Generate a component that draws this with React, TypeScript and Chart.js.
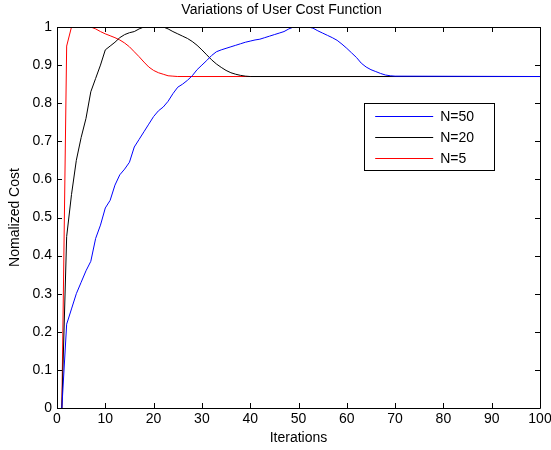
import React, { useEffect, useRef } from "react";
import { Chart, registerables } from "chart.js";
Chart.register(...registerables);

const titleText = "Variations of User Cost Function";
const xTitle = "Iterations";
const yTitle = "Nomalized Cost";
const seriesLabels = ["N=50", "N=20", "N=5"];
const seriesColors = ["#0000ff", "#000000", "#ff0000"];

const n50X = [
  1, 2, 3, 4, 5, 6, 7, 8, 9, 10, 11, 12, 13, 14, 15, 16, 17, 18, 19, 20,
  21, 22, 23, 24, 25, 26, 27, 28, 29, 30, 31, 32, 33, 34, 35, 36, 37, 38, 39, 40,
  41, 42, 43, 44, 45, 46, 47, 48, 49, 50, 51, 52, 53, 54, 55, 56, 57, 58, 59, 60,
  61, 62, 63, 64, 65, 66, 67, 68, 69, 70, 100,
];
const n50Y = [
  0, 0.22, 0.26, 0.3, 0.33, 0.36, 0.385, 0.445, 0.48, 0.525, 0.545, 0.585, 0.612, 0.627, 0.645, 0.685, 0.705, 0.725, 0.745, 0.765,
  0.78, 0.79, 0.805, 0.825, 0.842, 0.85, 0.86, 0.872, 0.888, 0.9, 0.912, 0.925, 0.935, 0.94, 0.944, 0.948, 0.952, 0.956, 0.96, 0.963,
  0.966, 0.968, 0.972, 0.976, 0.98, 0.984, 0.988, 0.995, 1, 1, 1, 1, 0.997, 0.99, 0.984, 0.978, 0.972, 0.965, 0.955, 0.944,
  0.932, 0.92, 0.905, 0.895, 0.888, 0.883, 0.878, 0.874, 0.872, 0.871, 0.87,
];

const n20X = [
  1, 2, 3, 4, 5, 6, 7, 8, 9, 10, 11, 12, 13, 14, 15, 16, 17, 18, 19, 20,
  21, 22, 23, 24, 25, 26, 27, 28, 29, 30, 31, 32, 33, 34, 35, 36, 37, 38, 39, 40, 100,
];
const n20Y = [
  0, 0.45, 0.56, 0.65, 0.71, 0.76, 0.83, 0.865, 0.9, 0.94, 0.95, 0.96, 0.972, 0.98, 0.985, 0.988, 0.995, 1, 1, 1,
  1, 1, 0.995, 0.988, 0.982, 0.976, 0.97, 0.962, 0.952, 0.94, 0.927, 0.914, 0.903, 0.894, 0.886, 0.88, 0.876, 0.873, 0.871, 0.87, 0.87,
];

const n5X = [
  1, 2, 3, 4, 5, 6, 7, 8, 9, 10, 11, 12, 13, 14, 15, 16, 17, 18, 19, 20,
  21, 22, 23, 24, 25, 100,
];
const n5Y = [
  0, 0.95, 1, 1, 1, 1, 1, 0.995, 0.988, 0.982, 0.977, 0.972, 0.966, 0.958, 0.948, 0.935, 0.922, 0.908, 0.895, 0.886,
  0.88, 0.876, 0.872, 0.871, 0.87, 0.87,
];

const xTicks = [0, 10, 20, 30, 40, 50, 60, 70, 80, 90, 100];
const yTicks = [0, 0.1, 0.2, 0.3, 0.4, 0.5, 0.6, 0.7, 0.8, 0.9, 1];

const FONT = "'Liberation Sans', Arial, Helvetica, sans-serif";
const FS = 14;

const toPoints = (xs: number[], ys: number[]) => xs.map((x, i) => ({ x, y: ys[i] }));

const framePlugin = {
  id: "frame",
  afterDraw(chart: any) {
    const { ctx, chartArea } = chart;
    const { left, right, top, bottom } = chartArea;
    const xs = chart.scales.x;
    const ys = chart.scales.y;
    ctx.save();
    ctx.strokeStyle = "#000";
    ctx.lineWidth = 1;
    ctx.beginPath();
    ctx.rect(Math.round(left) + 0.5, Math.round(top) + 0.5, Math.round(right - left), Math.round(bottom - top));
    ctx.stroke();
    const tl = 5;
    ctx.beginPath();
    xTicks.forEach((v) => {
      const px = Math.round(xs.getPixelForValue(v)) + 0.5;
      ctx.moveTo(px, bottom);
      ctx.lineTo(px, bottom - tl);
      ctx.moveTo(px, top);
      ctx.lineTo(px, top + tl);
    });
    yTicks.forEach((v) => {
      const py = Math.round(ys.getPixelForValue(v)) + 0.5;
      ctx.moveTo(left, py);
      ctx.lineTo(left + tl, py);
      ctx.moveTo(right, py);
      ctx.lineTo(right - tl, py);
    });
    ctx.stroke();

    // title
    ctx.fillStyle = "#000";
    ctx.font = `${FS}px ${FONT}`;
    ctx.textAlign = "center";
    ctx.textBaseline = "middle";
    ctx.fillText(titleText, left + (right - left) * 0.465, top - 17);

    // legend
    const w = right - left;
    const h = bottom - top;
    const bx = left + w * 0.636;
    const by = top + h * 0.2;
    const bw = w * 0.27;
    const bh = h * 0.177;
    ctx.fillStyle = "#fff";
    ctx.fillRect(bx, by, bw, bh);
    ctx.strokeStyle = "#000";
    ctx.strokeRect(Math.round(bx) + 0.5, Math.round(by) + 0.5, Math.round(bw), Math.round(bh));
    ctx.font = `${FS}px ${FONT}`;
    ctx.textAlign = "left";
    ctx.textBaseline = "middle";
    seriesLabels.forEach((lab, i) => {
      const y = Math.round(by + 12.5 + i * 21.3) + 0.5;
      ctx.strokeStyle = seriesColors[i];
      ctx.beginPath();
      ctx.moveTo(bx + 11, y);
      ctx.lineTo(bx + 69, y);
      ctx.stroke();
      ctx.fillStyle = "#000";
      ctx.fillText(lab, bx + 76, y + 1);
    });
    ctx.restore();
  },
};

export default function App() {
  const ref = useRef<HTMLCanvasElement>(null);
  useEffect(() => {
    if (!ref.current) return;
    const chart = new Chart(ref.current, {
      type: "line",
      data: {
        datasets: [
          { label: seriesLabels[0], data: toPoints(n50X, n50Y), borderColor: seriesColors[0] },
          { label: seriesLabels[1], data: toPoints(n20X, n20Y), borderColor: seriesColors[1] },
          { label: seriesLabels[2], data: toPoints(n5X, n5Y), borderColor: seriesColors[2] },
        ].map((d) => ({ ...d, borderWidth: 1, pointRadius: 0, tension: 0, fill: false })),
      },
      options: {
        animation: false,
        responsive: false,
        layout: { padding: { top: 27, right: 11, left: 0, bottom: 0 } },
        plugins: { legend: { display: false }, title: { display: false }, tooltip: { enabled: false } },
        scales: {
          x: {
            type: "linear",
            min: 0,
            max: 100,
            afterFit: (s: any) => { s.height = 42; s.paddingLeft = 0; s.paddingRight = 0; },
            afterBuildTicks: (s: any) => { s.ticks = xTicks.map((v) => ({ value: v })); },
            grid: { display: false, drawTicks: false },
            border: { display: false },
            ticks: { color: "#000", font: { family: FONT, size: FS }, padding: 3, maxRotation: 0, autoSkip: false },
            title: { display: true, text: xTitle, color: "#000", font: { family: FONT, size: FS }, padding: { top: 0, bottom: 3 } },
          },
          y: {
            type: "linear",
            min: 0,
            max: 1,
            afterFit: (s: any) => { s.width = 57; s.paddingTop = 0; s.paddingBottom = 0; },
            afterBuildTicks: (s: any) => { s.ticks = yTicks.map((v) => ({ value: v })); },
            grid: { display: false, drawTicks: false },
            border: { display: false },
            ticks: {
              color: "#000",
              font: { family: FONT, size: FS },
              padding: 5,
              autoSkip: false,
              callback: (v: any) => String(Number(Number(v).toFixed(1))),
            },
            title: { display: true, text: yTitle, color: "#000", font: { family: FONT, size: FS }, padding: { top: 7, bottom: 0 } },
          },
        },
      },
      plugins: [framePlugin],
    });
    return () => chart.destroy();
  }, []);
  return (
    <div style={{ position: "absolute", left: 0, top: 0 }}>
      <canvas ref={ref} width={551} height={450} style={{ width: 551, height: 450 }} />
    </div>
  );
}
